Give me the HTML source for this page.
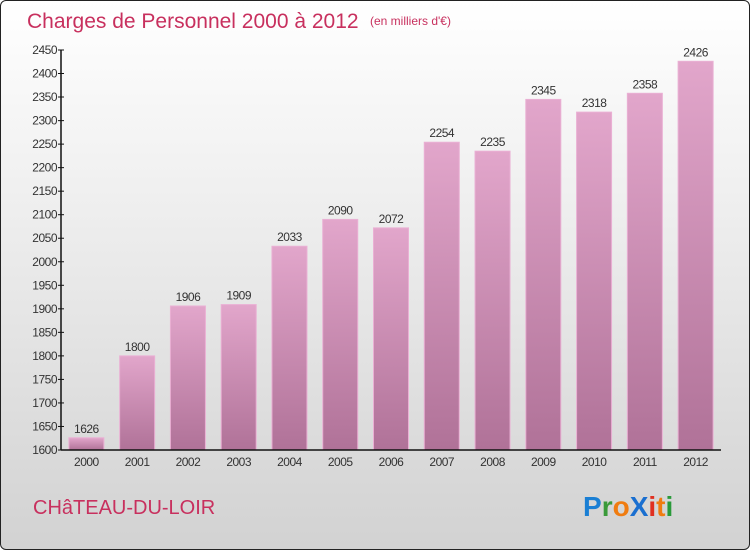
<!DOCTYPE html>
<html><head><meta charset="utf-8"><style>
body{margin:0;}
#wrap{position:relative;width:748px;height:548px;border:1px solid #222;border-radius:6px;overflow:hidden;background:linear-gradient(#ffffff 0%,#ebebeb 45%,#d2d2d2 100%);font-family:"Liberation Sans",sans-serif;}
</style></head><body>
<div id="wrap">
<svg width="750" height="550" viewBox="0 0 750 550" style="position:absolute;left:-1px;top:-1px">
<defs>
<linearGradient id="bg" x1="0" y1="0" x2="0" y2="1"><stop offset="0" stop-color="#e2a6cb"/><stop offset="1" stop-color="#b07298"/></linearGradient>
</defs>
<text x="27" y="28" font-size="21" fill="#c8305e">Charges de Personnel 2000 à 2012</text>
<text x="370" y="25" font-size="12" fill="#c8305e">(en milliers d'€)</text>
<g id="yaxis"></g>
<g id="bars"></g>
<g id="xaxis"></g>
<text x="33" y="514" font-size="20" fill="#c8305e">CHâTEAU-DU-LOIR</text>
<g font-size="28" font-weight="bold" font-family="'Liberation Sans',sans-serif">
<text x="583" y="516"><tspan fill="#1a7fd4">P</tspan><tspan fill="#3a9a3a">r</tspan><tspan fill="#f07c10">o</tspan><tspan fill="#1a6fd0">X</tspan><tspan fill="#e03020">i</tspan><tspan fill="#f07c10">t</tspan><tspan fill="#2a9a3a">i</tspan></text>
</g>
</svg>
</div>
<script>
const years=["2000","2001","2002","2003","2004","2005","2006","2007","2008","2009","2010","2011","2012"];
const values=[1626,1800,1906,1909,2033,2090,2072,2254,2235,2345,2318,2358,2426];
const yTicks=[1600,1650,1700,1750,1800,1850,1900,1950,2000,2050,2100,2150,2200,2250,2300,2350,2400,2450];
const NS="http://www.w3.org/2000/svg";
const x0=61,x1=721,yTop=50,yBot=450,vMin=1600,vMax=2450;
const band=(x1-x0)/years.length;
function y(v){return yBot-(v-vMin)/(vMax-vMin)*(yBot-yTop);}
function xc(i){return x0+band*(i+0.5);}
function mk(tag,attrs,parent){const e=document.createElementNS(NS,tag);for(const k in attrs)e.setAttribute(k,attrs[k]);parent.appendChild(e);return e;}
const ya=document.getElementById('yaxis'),xa=document.getElementById('xaxis'),bg=document.getElementById('bars');
const yl=mk('line',{x1:x0,x2:x0,y1:yTop,y2:yBot,stroke:'#111','stroke-width':1.5},ya);


yTicks.forEach(t=>{
 const tk=mk('line',{x1:x0-3,x2:x0+3,y1:y(t),y2:y(t),stroke:'#111'},ya);
 
 
 const tx=mk('text',{x:x0-4,y:y(t)+4,'font-size':12,fill:'#333','text-anchor':'end','letter-spacing':'-0.5'},ya);
 tx.textContent=t;
 
 
});
values.forEach((v,i)=>{
 const w=35,bx=xc(i)-w/2;
 const r=mk('rect',{x:bx,y:y(v),width:w,height:yBot-y(v),fill:'url(#bg)',stroke:'#eab0d4','stroke-width':1},bg);
 
 
 const t=mk('text',{x:xc(i),y:y(v)-5,'font-size':12,fill:'#333','text-anchor':'middle','letter-spacing':'-0.5'},bg);
 t.textContent=v;
 
 
 const xl=mk('text',{x:xc(i),y:yBot+16,'font-size':12,fill:'#333','text-anchor':'middle','letter-spacing':'-0.5'},xa);
 xl.textContent=years[i];
 
 
});
const xl=mk('line',{x1:x0,x2:x1,y1:yBot,y2:yBot,stroke:'#111','stroke-width':1.5},xa);


</script>
</body></html>
